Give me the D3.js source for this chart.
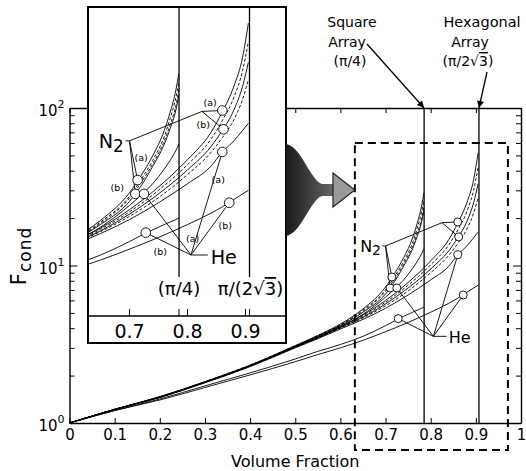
<!DOCTYPE html>
<html><head><meta charset="utf-8">
<script src="https://cdn.jsdelivr.net/npm/d3@7"></script>
<style>
body{margin:0;background:#fff}
svg{display:block;font-family:"DejaVu Sans",sans-serif}
</style></head><body>
<svg id="chart" width="526" height="471"></svg>
<script>
// ---------- DATA --------------------------------------------------------
const xTicks      = [0,0.1,0.2,0.3,0.4,0.5,0.6,0.7,0.8,0.9,1];
const xTickLabels = ['0','0.1','0.2','0.3','0.4','0.5','0.6','0.7','0.8','0.9','1'];
const yTickVals   = [1,2,3,4,5,6,7,8,9,10,20,30,40,50,60,70,80,90,100];
const yDecades    = [1,10,100];
const yDecadeExp  = ['0','1','2'];
const insetTicks  = [0.7,0.8,0.9];
const insetTickLabels = ['0.7','0.8','0.9'];
const PI4  = 0.7854;    // square array packing limit
const PI23 = 0.9069;    // hexagonal array packing limit

// square array curves
const vSquare = [0,0.1,0.2,0.3,0.4,0.5,0.55,0.6,0.65,0.7,0.72,0.74,0.76,0.77,0.78,0.785];
const sqN2a   = [1,1.22,1.47,1.83,2.33,3.1,3.6,4.25,5.3,7.3,8.9,11.2,15,18.5,24,29];
const sqDash1 = [1,1.22,1.47,1.83,2.33,3.09,3.58,4.2,5.2,7.0,8.5,10.6,14,17.2,22,26];
const sqDash2 = [1,1.22,1.46,1.82,2.32,3.08,3.56,4.18,5.12,6.85,8.2,10.2,13.3,16,20,24];
const sqN2b   = [1,1.22,1.46,1.82,2.31,3.07,3.55,4.15,5.05,6.6,7.9,9.9,12.8,15.3,19,22.5];
const sqHeA   = [1,1.22,1.46,1.81,2.3,3.04,3.5,4.08,4.9,6.3,7.1,8.1,9.6,10.6,11.9,12.8];
const sqHeB   = [1,1.2,1.42,1.72,2.08,2.55,2.85,3.15,3.55,4.15,4.45,4.75,5.05,5.2,5.35,5.45];

// hexagonal array curves
const vHex     = [0,0.1,0.2,0.3,0.4,0.5,0.55,0.6,0.65,0.7,0.75,0.8,0.84,0.86,0.88,0.895,0.905];
const hexN2a   = [1,1.22,1.46,1.82,2.31,3.06,3.52,4.1,4.85,6.0,7.8,10.7,14.6,18.6,25,35,52];
const hexDash1 = [1,1.22,1.46,1.82,2.3,3.05,3.5,4.06,4.78,5.85,7.5,10.1,13.5,16.8,22,30,42];
const hexN2b   = [1,1.22,1.46,1.81,2.3,3.04,3.48,4.03,4.7,5.7,7.2,9.5,12.4,15,19,25,33];
const hexDash2 = [1,1.22,1.45,1.81,2.29,3.02,3.46,4.0,4.65,5.55,6.9,9.0,11.6,13.8,17,21.5,27];
const hexHeA   = [1,1.22,1.45,1.8,2.28,3.0,3.43,3.95,4.55,5.35,6.5,8.1,9.9,11.7,13.3,15,16.3];
const hexHeB   = [1,1.2,1.4,1.68,2.02,2.45,2.72,3.0,3.35,3.8,4.35,5.05,5.75,6.2,6.75,7.2,7.5];

const series = [
  {name:'sqN2a',v:vSquare,f:sqN2a},{name:'sqDash1',v:vSquare,f:sqDash1},
  {name:'sqDash2',v:vSquare,f:sqDash2},{name:'sqN2b',v:vSquare,f:sqN2b},
  {name:'sqHeA',v:vSquare,f:sqHeA},{name:'sqHeB',v:vSquare,f:sqHeB},
  {name:'hexN2a',v:vHex,f:hexN2a},{name:'hexDash1',v:vHex,f:hexDash1},
  {name:'hexN2b',v:vHex,f:hexN2b},{name:'hexDash2',v:vHex,f:hexDash2},
  {name:'hexHeA',v:vHex,f:hexHeA},{name:'hexHeB',v:vHex,f:hexHeB}
];
const dashed = ['sqDash1','sqDash2','hexDash1','hexDash2'];

// marked points: sq N2 a, sq N2 b, sq He a, sq He b, hex N2 a, hex N2 b, hex He a, hex He b
const markerV = [0.714,0.71,0.725,0.728,0.86,0.862,0.86,0.872];
const markerF = [8.45,7.2,7.2,4.6,18.9,15.2,11.7,6.5];
const markerTag = ['(a)','(b)','(a)','(b)','(a)','(b)','(a)','(b)'];
const tagV = [0.72,0.679,0.809,0.753,0.839,0.827,0.853,0.865];
const tagF = [11.0,7.7,4.27,3.67,20.6,16.0,8.45,4.97];

// leader line joints
const n2Label = [0.69,12.2], n2Joint = [0.70,13.3], n2HexJoint = [0.825,18.7];
const heLabel = [0.84,3.2],  heJoint = [0.806,3.55];
const zoomBox = {v0:0.632, v1:0.971, f0:0.674, f1:60};

// ---------- LAYOUT ------------------------------------------------------
const svg = d3.select('#chart');
const P = {l:69.5, r:521, t:108, b:423};
const IN = {l:88, r:286, t:7, b:343, axis:316};
const x  = d3.scaleLinear().domain([0,1]).range([P.l,P.r]);
const y  = d3.scaleLog().domain([1,100]).range([P.b,P.t]);
const xi = d3.scaleLinear().domain([0.7,0.9]).range([129.5,245.5]);
const yi = d3.scaleLog().domain([1,100]).range([364.5,-33.5]);

const defs = svg.append('defs');
defs.append('clipPath').attr('id','clipMain').append('rect')
  .attr('x',P.l).attr('y',P.t).attr('width',P.r-P.l).attr('height',P.b-P.t);
defs.append('clipPath').attr('id','clipInset').append('rect')
  .attr('x',IN.l).attr('y',IN.t).attr('width',IN.r-IN.l).attr('height',IN.axis-IN.t);
defs.append('marker').attr('id','tip').attr('viewBox','0 0 10 10').attr('refX',10).attr('refY',5)
  .attr('markerWidth',9).attr('markerHeight',7).attr('markerUnits','userSpaceOnUse').attr('orient','auto')
  .append('path').attr('d','M0,0L10,5L0,10Z').attr('fill','#000');
const grad = defs.append('linearGradient').attr('id','arrowGrad');
grad.append('stop').attr('offset','0%').attr('stop-color','#1a1a1a');
grad.append('stop').attr('offset','100%').attr('stop-color','#666');

// ---------- MAIN AXES ---------------------------------------------------
function styleAxis(g){
  g.attr('font-family','DejaVu Sans').attr('font-size',15);
  g.select('.domain').attr('stroke-width',1.4);
  g.selectAll('.tick line').attr('stroke-width',1);
}
svg.append('g').attr('transform',`translate(0,${P.b})`)
  .call(d3.axisBottom(x).tickValues(xTicks).tickFormat((d,i)=>xTickLabels[i]).tickSize(-5).tickSizeOuter(0).tickPadding(6))
  .call(styleAxis);
svg.append('g').attr('transform',`translate(0,${P.t})`)
  .call(d3.axisTop(x).tickValues(xTicks).tickFormat('').tickSize(-5).tickSizeOuter(0))
  .call(styleAxis);
svg.append('g').attr('transform',`translate(${P.l},0)`)
  .call(d3.axisLeft(y).tickValues(yTickVals).tickFormat('').tickSize(-5).tickSizeOuter(0))
  .call(styleAxis)
  .selectAll('.tick line').attr('x2',d=>yDecades.includes(d)?8:5);
svg.append('g').attr('transform',`translate(${P.r},0)`)
  .call(d3.axisRight(y).tickValues(yTickVals).tickFormat('').tickSize(-5).tickSizeOuter(0))
  .call(styleAxis)
  .selectAll('.tick line').attr('x2',d=>yDecades.includes(d)?-8:-5);

yDecades.forEach((d,i)=>{
  const t = svg.append('text').attr('x',P.l-5).attr('y',y(d)+8)
    .attr('text-anchor','end').attr('font-size',15).text('10');
  t.append('tspan').attr('dy',-8).attr('font-size',11).text(yDecadeExp[i]);
});

const yl = svg.append('text').attr('transform','translate(26,256) rotate(-90)')
  .attr('text-anchor','middle').attr('font-size',21).attr('letter-spacing',1).text('F');
yl.append('tspan').attr('dy',5).attr('font-size',17).text('cond');
svg.append('text').attr('x',(P.l+P.r)/2).attr('y',467).attr('text-anchor','middle')
  .attr('font-size',16).text('Volume Fraction');

// ---------- PANEL (main + inset share this) -----------------------------
function drawPanel(g, sx, sy, k, clipId, topF, botF, inset){
  const c = g.append('g').attr('clip-path',`url(#${clipId})`);
  const line = d3.line().curve(d3.curveMonotoneX).x(d=>sx(d[0])).y(d=>sy(d[1]));
  series.forEach(s=>{
    c.append('path').datum(s.v.map((v,i)=>[v,s.f[i]]))
      .attr('fill','none').attr('stroke','#000').attr('stroke-width',0.9)
      .attr('stroke-dasharray',dashed.includes(s.name)?'3,2':null)
      .attr('d',line);
  });
  [PI4,PI23].forEach(v=>{
    c.append('line').attr('x1',sx(v)).attr('x2',sx(v)).attr('y1',sy(topF)).attr('y2',sy(botF))
      .attr('stroke','#000').attr('stroke-width',1.3);
  });
  // leader lines
  const seg = (a,b)=>c.append('line').attr('x1',sx(a[0])).attr('y1',sy(a[1]))
      .attr('x2',sx(b[0])).attr('y2',sy(b[1])).attr('stroke','#000').attr('stroke-width',0.9);
  const mk = i=>[markerV[i],markerF[i]];
  seg([n2Label[0]+0.003,n2Joint[1]],n2Joint);
  seg(n2Joint,mk(0)); seg(n2Joint,mk(1)); seg(n2Joint,n2HexJoint);
  seg(n2HexJoint,mk(4)); seg(n2HexJoint,mk(5));
  seg(heJoint,[heLabel[0]-0.005,heJoint[1]]);
  [2,3,6,7].forEach(i=>seg(heJoint,mk(i)));
  c.selectAll('circle.m').data(markerV).join('circle').attr('class','m')
    .attr('cx',(d)=>sx(d)).attr('cy',(d,i)=>sy(markerF[i])).attr('r',4*k)
    .attr('fill','#fff').attr('stroke','#000').attr('stroke-width',0.9);
  if(inset){
    c.selectAll('text.tag').data(markerTag).join('text').attr('class','tag')
      .attr('x',(d,i)=>sx(tagV[i])).attr('y',(d,i)=>sy(tagF[i])).attr('dy','0.35em')
      .attr('text-anchor','middle').attr('font-size',9.5).text(d=>d);
  }
  const n2 = g.append('text').attr('x',sx(n2Label[0])).attr('y',sy(n2Label[1]))
    .attr('text-anchor','end').attr('font-size',16*k).text('N');
  n2.append('tspan').attr('dy',3*k).attr('font-size',14*k).text('2');
  g.append('text').attr('x',sx(heLabel[0])).attr('y',sy(heLabel[1]))
    .attr('font-size',16*k).text('He');
}

drawPanel(svg.append('g'), x, y, 1, 'clipMain', 100, 1, false);

// dashed zoom box
svg.append('rect').attr('x',x(zoomBox.v0)).attr('y',y(zoomBox.f1))
  .attr('width',x(zoomBox.v1)-x(zoomBox.v0)).attr('height',y(zoomBox.f0)-y(zoomBox.f1))
  .attr('fill','none').attr('stroke','#000').attr('stroke-width',2).attr('stroke-dasharray','8,5');

// ---------- INSET -------------------------------------------------------
const ig = svg.append('g');
ig.append('rect').attr('x',IN.l).attr('y',IN.t).attr('width',IN.r-IN.l).attr('height',IN.b-IN.t)
  .attr('fill','#fff').attr('stroke','#000').attr('stroke-width',2);
drawPanel(ig, xi, yi, 1.2, 'clipInset', 80, 2.75, true);
ig.append('line').attr('x1',IN.l).attr('x2',IN.r).attr('y1',IN.axis).attr('y2',IN.axis)
  .attr('stroke','#000').attr('stroke-width',1.3);
[...insetTicks,PI4,PI23].forEach(v=>{
  ig.append('line').attr('x1',xi(v)).attr('x2',xi(v)).attr('y1',IN.axis).attr('y2',IN.axis-7)
    .attr('stroke','#000').attr('stroke-width',1);
});
insetTicks.forEach((v,i)=>{
  ig.append('text').attr('x',xi(v)).attr('y',IN.axis+22).attr('text-anchor','middle')
    .attr('font-size',19).text(insetTickLabels[i]);
});
ig.append('text').attr('x',xi(PI4)).attr('y',IN.axis-21).attr('text-anchor','middle')
  .attr('font-size',18).text('(π/4)');
const hx = ig.append('text').attr('x',xi(PI23)+1).attr('y',IN.axis-21).attr('text-anchor','middle')
  .attr('font-size',18).text('π/(2√');
hx.append('tspan').style('text-decoration','overline').text('3');
hx.append('tspan').text(')');

// ---------- BIG ARROW ---------------------------------------------------
const cy = 190, r0 = IN.r, tip = x(zoomBox.v0);
svg.append('path')
  .attr('d',`M${r0},${cy-46} C${r0+15},${cy-44} ${r0+24},${cy-10} ${r0+36},${cy-6} L${r0+48},${cy-6} L${r0+48},${cy+6} L${r0+36},${cy+6} C${r0+24},${cy+10} ${r0+15},${cy+44} ${r0},${cy+46} Z`)
  .attr('fill','url(#arrowGrad)');
svg.append('path')
  .attr('d',`M${r0+47},${cy-17} L${tip},${cy} L${r0+47},${cy+17} Z`)
  .attr('fill','#999').attr('stroke','#222').attr('stroke-width',1.2);

// ---------- TOP ANNOTATIONS ---------------------------------------------
const sqLines = ['Square','Array','(π/4)'];
const sqCx = [352,347,350];
sqLines.forEach((t,i)=>svg.append('text').attr('x',sqCx[i]).attr('y',27+i*19.5)
  .attr('text-anchor','middle').attr('font-size',14).text(t));
const hxCx = [482,470,468];
svg.append('text').attr('x',hxCx[0]).attr('y',27).attr('text-anchor','middle').attr('font-size',14.5).text('Hexagonal');
svg.append('text').attr('x',hxCx[1]).attr('y',46.5).attr('text-anchor','middle').attr('font-size',14).text('Array');
const h3 = svg.append('text').attr('x',hxCx[2]).attr('y',66).attr('text-anchor','middle').attr('font-size',14).text('(π/2√');
h3.append('tspan').style('text-decoration','overline').text('3');
h3.append('tspan').text(')');

svg.append('line').attr('x1',367).attr('y1',44).attr('x2',x(PI4)).attr('y2',y(100))
  .attr('stroke','#000').attr('stroke-width',1.3).attr('marker-end','url(#tip)');
svg.append('line').attr('x1',487).attr('y1',72).attr('x2',x(PI23)).attr('y2',y(100))
  .attr('stroke','#000').attr('stroke-width',1.3).attr('marker-end','url(#tip)');
</script>
</body></html>
